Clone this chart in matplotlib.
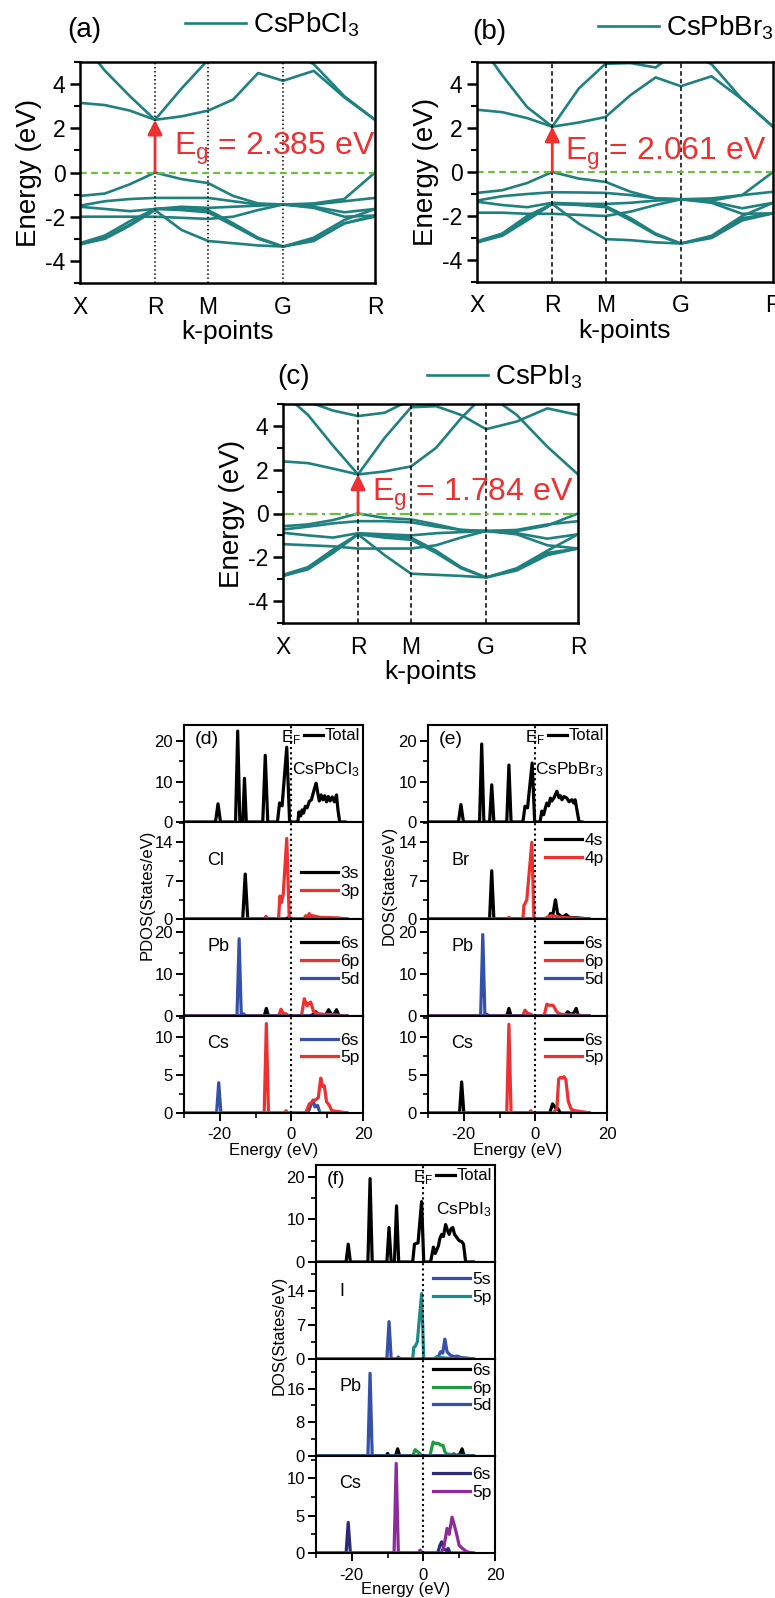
#!/usr/bin/env python3
# -*- coding: utf-8 -*-
"""CsPbX3 band structures (a-c) + total/partial DOS (d-f)."""
import matplotlib
matplotlib.use("Agg")
import matplotlib.pyplot as plt
from matplotlib.ticker import MultipleLocator

plt.rcParams['font.family'] = ['Liberation Sans', 'DejaVu Sans']
plt.rcParams['mathtext.fontset'] = 'custom'
plt.rcParams['mathtext.rm'] = 'Liberation Sans'
plt.rcParams['mathtext.it'] = 'Liberation Sans:italic'
plt.rcParams['axes.unicode_minus'] = False

TEAL = '#1f8080'
GREEN = '#6cbf3c'
RED = '#ee3030'
BLUE = '#3550a8'

# ---- band structure data: energies (eV) on the k-path X-R-M-G-R ----
KPATH = [0, 0.236, 0.471, 0.707, 0.957, 1.207, 1.443, 1.678, 1.914, 2.203, 2.491, 2.780]
KSYM = [0, 0.707, 1.207, 1.914, 2.780]
KLAB = ['X', 'R', 'M', 'G', 'R']

cb_cl = [
    [3.15, 3.05, 2.8, 2.385, 2.54, 2.8, 3.3, 4.5, 4.15, 4.6, 3.4, 2.385],
    [6.0, 4.6, 3.45, 2.385, 3.8, 5.1, 5.6, 5.2, 5.6, 4.9, 3.45, 2.385],
]
vb_cl = [
    [-1.06, -0.95, -0.53, 0.0, -0.3, -0.48, -1.06, -1.4, -1.45, -1.4, -1.2, 0.0],
    [-1.5, -1.3, -1.2, -1.15, -1.15, -1.15, -1.3, -1.45, -1.45, -1.45, -1.3, -1.15],
    [-1.55, -1.65, -1.75, -1.65, -1.55, -1.6, -1.55, -1.5, -1.45, -1.55, -1.8, -1.65],
    [-2.0, -2.0, -2.0, -2.0, -2.05, -2.1, -2.0, -1.7, -1.45, -1.6, -2.0, -1.95],
    [-3.25, -3.0, -2.4, -1.7, -2.6, -3.1, -3.2, -3.3, -3.35, -3.1, -2.3, -2.0],
    [-3.25, -2.95, -2.35, -1.65, -1.7, -1.8, -2.4, -3.0, -3.35, -3.05, -2.3, -1.95],
    [-3.2, -2.85, -2.2, -1.65, -1.6, -1.7, -2.3, -2.95, -3.35, -2.95, -2.15, -1.65],
]
cb_br = [
    [2.83, 2.72, 2.45, 2.061, 2.25, 2.5, 3.5, 4.3, 3.9, 4.35, 3.3, 2.061],
    [6.0, 4.4, 2.95, 2.061, 3.8, 4.92, 4.95, 4.75, 5.6, 4.9, 3.3, 2.061],
]
vb_br = [
    [-0.95, -0.83, -0.5, 0.0, -0.3, -0.45, -0.9, -1.2, -1.24, -1.3, -1.05, 0.0],
    [-1.3, -1.1, -1.0, -0.92, -0.93, -0.95, -1.05, -1.2, -1.24, -1.2, -1.05, -0.9],
    [-1.35, -1.5, -1.6, -1.4, -1.45, -1.45, -1.4, -1.3, -1.24, -1.35, -1.65, -1.4],
    [-1.85, -1.85, -1.9, -1.9, -1.95, -2.0, -1.8, -1.5, -1.24, -1.4, -1.9, -1.88],
    [-3.2, -2.9, -2.2, -1.45, -2.35, -3.05, -3.1, -3.2, -3.25, -3.0, -2.2, -1.88],
    [-3.2, -2.85, -2.1, -1.45, -1.5, -1.6, -2.2, -2.85, -3.25, -2.95, -2.1, -1.88],
    [-3.15, -2.8, -2.0, -1.45, -1.45, -1.55, -2.1, -2.8, -3.25, -2.9, -2.0, -1.4],
]
cb_i = [
    [2.38, 2.3, 2.05, 1.784, 1.92, 2.15, 3.0, 4.35, 5.5, 4.5, 3.05, 1.784],
    [5.5, 4.5, 3.1, 1.784, 3.45, 4.85, 4.9, 4.5, 3.85, 4.2, 4.8, 4.5],
    [5.5, 5.1, 4.7, 4.45, 4.6, 5.2, 5.5, 5.5, 5.5, 5.5, 5.5, 5.5],
]
vb_i = [
    [-0.58, -0.5, -0.3, 0.0, -0.2, -0.27, -0.5, -0.75, -0.8, -0.8, -0.55, 0.0],
    [-0.73, -0.6, -0.45, -0.35, -0.35, -0.4, -0.6, -0.75, -0.8, -0.75, -0.5, -0.35],
    [-0.88, -1.0, -1.1, -0.9, -0.95, -1.0, -0.9, -0.85, -0.8, -0.9, -1.15, -0.95],
    [-1.4, -1.45, -1.5, -1.6, -1.6, -1.6, -1.45, -1.1, -0.8, -0.95, -1.45, -1.6],
    [-2.85, -2.55, -1.8, -0.95, -1.9, -2.75, -2.8, -2.85, -2.92, -2.6, -1.9, -1.6],
    [-2.85, -2.5, -1.75, -0.95, -1.1, -1.2, -1.8, -2.5, -2.92, -2.55, -1.8, -1.6],
    [-2.8, -2.45, -1.65, -0.95, -1.0, -1.1, -1.7, -2.45, -2.92, -2.5, -1.7, -0.95],
]
EG = {'cl': 2.385, 'br': 2.061, 'i': 1.784}

# ---- DOS data: (energy list, states/eV list) per curve ----
tot_cl_e = [-30, -21.2, -20.5, -19.8, -15.6, -15.0, -14.4, -13.6, -13.1, -12.6, -8.0, -7.3, -6.6,
            -3.9, -3.3, -2.6, -1.3, -0.5, 1.8, 2.1, 2.6, 3.0, 3.4, 3.9, 4.4, 5.0, 5.6, 6.2, 6.9,
            7.4, 7.8, 8.3, 8.8, 9.3, 9.8, 10.3, 10.8, 11.4, 12.0, 12.6, 13.0, 13.5, 15]
tot_cl_d = [0, 0, 4.5, 0, 0, 22.5, 0, 0, 10.8, 0, 0, 16.5, 0,
            0, 4.7, 4.0, 18.5, 0, 0, 2.5, 1.5, 3.0, 2.2, 3.9, 3.5, 5.1, 5.5, 7.5, 9.6,
            7.0, 5.2, 6.7, 5.5, 6.5, 5.0, 6.3, 5.2, 6.2, 5.0, 6.7, 3.0, 0, 0]
cl3s_e = [-30, -13.6, -12.9, -12.2, -1.6, -1.0, -0.5, 15.5]
cl3s_d = [0, 0, 8.2, 0, 0, 0.2, 0, 0]
cl3p_e = [-30, -7.6, -7.1, -6.6, -3.6, -3.2, -2.8, -2.3, -1.3, -0.6, 3.5, 4.0, 4.5, 5.0, 5.5,
          6.0, 8.0, 13.0, 15.5]
cl3p_d = [0, 0, 0.5, 0, 0, 4.2, 3.0, 4.4, 14.7, 0, 0, 0.6, 0.3, 1.0, 0.4, 0.6, 0.3, 0.2, 0]
pb6s_cl_e = [-30, -7.6, -7.0, -6.4, 5.0, 6.0, 6.8, 7.6, 9.6, 10.4, 11.2, 11.9, 12.6, 13.3, 15.5]
pb6s_cl_d = [0, 0, 1.8, 0, 0, 0.3, 1.0, 0.2, 0.3, 1.5, 0.3, 0.4, 1.5, 0, 0]
pb6p_cl_e = [-30, -3.6, -2.9, -2.3, -1.5, -0.8, 2.8, 3.6, 4.4, 4.8, 5.4, 6.2, 7.0, 9.0, 12.0, 15.5]
pb6p_cl_d = [0, 0, 1.6, 0.6, 0.5, 0, 0, 4.1, 2.4, 3.0, 3.3, 1.0, 0.6, 0.4, 0.3, 0]
pb5d_cl_e = [-30, -15.2, -14.6, -14.0, -13.3, -12.8, 15.5]
pb5d_cl_d = [0, 0, 18.3, 0, 0.5, 0, 0]
cs6s_cl_e = [-30, -20.9, -20.3, -19.7, 4.6, 5.4, 6.0, 6.6, 7.3, 8.0, 15.5]
cs6s_cl_d = [0, 0, 4.0, 0, 0, 1.0, 1.7, 0.8, 1.0, 0, 0]
cs5p_cl_e = [-30, -7.6, -7.0, -6.4, -2.0, -1.5, -1.0, 4.0, 5.0, 6.0, 7.5, 8.2, 8.7, 9.2, 9.8,
             10.6, 11.3, 13, 15.5]
cs5p_cl_d = [0, 0, 11.8, 0, 0, 0.3, 0, 0, 1.2, 1.5, 2.0, 4.6, 3.5, 3.6, 1.5, 1.0, 0.3, 0.2, 0]

tot_br_e = [-30, -21.5, -20.8, -20.1, -15.6, -15.0, -14.4, -12.8, -12.2, -11.6, -8.0, -7.4, -6.8,
            -3.5, -2.9, -2.2, -0.9, -0.2, 1.3, 1.8, 2.3, 2.8, 3.2, 3.7, 4.2, 4.6, 5.2, 6.0, 6.6,
            7.0, 7.4, 8.0, 8.8, 9.4, 10.2, 10.7, 11.1, 11.6, 12.2, 13]
tot_br_d = [0, 0, 4.3, 0, 0, 19.3, 0, 0, 9.2, 0, 0, 14.1, 0,
            0, 3.9, 3.5, 14.6, 0, 0, 2.7, 1.8, 3.5, 4.7, 4.0, 5.9, 5.2, 6.0, 7.6, 6.0,
            6.5, 5.5, 6.3, 5.9, 5.0, 5.5, 4.7, 5.5, 3.0, 0, 0]
br4s_e = [-30, -12.8, -12.2, -11.6, 3.6, 4.2, 4.8, 5.2, 5.6, 6.2, 7.5, 8.6, 9.5, 12, 15]
br4s_d = [0, 0, 8.8, 0, 0, 1.0, 0.5, 2.0, 3.5, 1.0, 0.3, 0.8, 0.3, 0.2, 0]
br4p_e = [-30, -8.0, -7.4, -6.8, -3.5, -3.2, -2.9, -2.4, -1.0, -0.4, 2.5, 3.5, 4.5, 5.5, 7.0, 12, 15]
br4p_d = [0, 0, 0.3, 0, 0, 2.5, 2.8, 3.5, 14.0, 0, 0, 0.4, 0.6, 0.5, 0.3, 0.1, 0]
pb6s_br_e = [-30, -8.0, -7.4, -6.8, 8.0, 9.0, 10.0, 10.8, 11.4, 12.0, 15]
pb6s_br_d = [0, 0, 1.8, 0, 0, 1.0, 0.4, 0.8, 1.8, 0, 0]
pb6p_br_e = [-30, -3.6, -2.9, -2.2, -1.4, -0.6, 2.4, 3.2, 4.0, 4.6, 5.1, 5.8, 6.5, 8.0, 12, 15]
pb6p_br_d = [0, 0, 1.4, 0.6, 0.5, 0, 0, 2.8, 2.5, 2.6, 2.4, 1.2, 0.6, 0.3, 0.2, 0]
pb5d_br_e = [-30, -15.3, -14.7, -14.1, -13.5, -13.0, 15]
pb5d_br_d = [0, 0, 19.3, 0, 0.4, 0, 0]
cs6s_br_e = [-30, -21.2, -20.6, -20.0, 4.0, 4.8, 5.6, 6.2, 7.0, 15]
cs6s_br_d = [0, 0, 4.1, 0, 0, 1.2, 0.7, 0.6, 0, 0]
cs5p_br_e = [-30, -8.0, -7.4, -6.8, -1.8, -1.3, -0.8, 5.0, 6.0, 6.5, 7.0, 7.5, 8.0, 8.5, 9.2,
             10.0, 11, 14, 15]
cs5p_br_d = [0, 0, 11.7, 0, 0, 0.3, 0, 0, 0.6, 4.5, 4.7, 4.6, 4.8, 4.4, 1.5, 0.5, 0.3, 0.1, 0]

tot_i_e = [-30, -21.6, -21.0, -20.4, -15.5, -14.9, -14.3, -10.2, -9.6, -9.0, -8.1, -7.5, -6.9,
           -3.0, -2.5, -1.5, -0.5, 0.1, 2.0, 2.8, 3.3, 4.2, 4.6, 5.1, 5.6, 6.2, 6.7, 7.2, 7.7,
           8.2, 8.7, 9.3, 10.0, 10.7, 11.2, 11.8, 14]
tot_i_d = [0, 0, 4.2, 0, 0, 19.6, 0, 0, 8.1, 0, 0, 13.2, 0,
           0, 4.2, 4.5, 14.2, 0, 0, 3.5, 2.0, 3.8, 5.5, 6.5, 6.0, 8.8, 7.5, 6.5, 7.8,
           8.1, 6.5, 5.8, 5.0, 4.8, 4.2, 0, 0]
i5s_e = [-30, -10.2, -9.6, -9.0, -7.5, -7.0, -6.5, 3.5, 4.2, 4.8, 5.4, 6.0, 6.6, 7.5, 8.5, 9.5,
         10.5, 12, 14]
i5s_d = [0, 0, 7.7, 0, 0, 0.4, 0, 0, 0.5, 1.5, 1.2, 4.1, 1.5, 0.8, 0.5, 0.6, 0.3, 0.2, 0]
i5p_e = [-30, -3.0, -2.7, -2.3, -1.7, -0.5, 0.1, 3.0, 3.8, 4.5, 8, 14]
i5p_d = [0, 0, 2.4, 2.6, 3.5, 13.5, 0, 0, 0.5, 0.3, 0.1, 0]
pb6s_i_e = [-30, -10.5, -10.0, -9.5, -7.8, -7.2, -6.6, 7.8, 8.5, 9.2, 10.2, 10.8, 11.4, 14]
pb6s_i_d = [0, 0, 0.6, 0, 0, 1.7, 0, 0, 0.5, 0, 0.5, 1.7, 0, 0]
pb6p_i_e = [-30, -3.0, -2.3, -1.6, -1.0, -0.5, 1.8, 2.7, 3.3, 4.1, 4.8, 5.5, 6.0, 6.5, 8, 12, 14]
pb6p_i_d = [0, 0, 1.5, 1.0, 0.6, 0, 0, 3.3, 3.0, 3.0, 2.6, 2.5, 1.0, 0.5, 0.3, 0.1, 0]
pb5d_i_e = [-30, -15.5, -14.9, -14.3, 14]
pb5d_i_d = [0, 0, 19.6, 0, 0]
cs6s_i_e = [-30, -21.6, -21.0, -20.4, 4.0, 4.6, 5.1, 5.8, 6.5, 6.9, 7.5, 14]
cs6s_i_d = [0, 0, 4.1, 0, 0, 1.0, 1.5, 0.5, 0.3, 0.6, 0, 0]
cs5p_i_e = [-30, -8.2, -7.6, -7.0, -1.4, -0.9, -0.4, 5.0, 5.8, 6.6, 7.2, 8.0, 8.6, 9.3, 10.0,
            10.7, 12, 13.5]
cs5p_i_d = [0, 0, 12.0, 0, 0, 0.4, 0, 0, 1.0, 3.3, 2.5, 4.8, 3.8, 2.5, 1.0, 0.7, 0.2, 0]

W, H = 775, 1598
fig = plt.figure(figsize=(W / 100, H / 100), dpi=100)


def px_axes(x0, y0, x1, y1):
    return fig.add_axes([x0 / W, 1 - y1 / H, (x1 - x0) / W, (y1 - y0) / H])


def band_panel(box, cb, vb, eg, name, tag, vls, fls, leg_xy, tag_xy, txt_xy):
    ax = px_axes(*box)
    for i, band in enumerate(cb + vb):
        ax.plot(KPATH, band, color=TEAL, lw=1.9, label=name if i == 0 else None)
    for k in KSYM[1:-1]:
        ax.axvline(k, color='k', ls=vls, lw=1.1)
    ax.axhline(0, color=GREEN, lw=1.6, **fls)
    ax.annotate('', xy=(KSYM[1], eg), xytext=(KSYM[1], 0),
                arrowprops=dict(arrowstyle='-|>', color=RED, lw=2, mutation_scale=22,
                                shrinkA=0, shrinkB=0))
    ax.text(txt_xy[0], txt_xy[1], 'E$_\\mathrm{g}$ = %.3f eV' % eg, color=RED, fontsize=23,
            va='baseline')
    ax.set_xlim(KSYM[0], KSYM[-1])
    ax.set_ylim(-5, 5)
    ax.set_xticks(KSYM, KLAB)
    ax.set_xticks([KSYM[0], KSYM[-1]], minor=True)
    ax.tick_params(axis='x', which='major', length=0, labelsize=16.5, pad=9)
    ax.tick_params(axis='x', which='minor', length=12, width=1.8, direction='out')
    ax.yaxis.set_major_locator(MultipleLocator(2))
    ax.yaxis.set_minor_locator(MultipleLocator(1))
    ax.tick_params(axis='y', which='major', length=7, width=1.8, labelsize=16.5)
    ax.tick_params(axis='y', which='minor', length=4, width=1.5)
    for s in ax.spines.values():
        s.set_linewidth(1.8)
    ax.set_xlabel('k-points', fontsize=19, labelpad=1)
    ax.set_ylabel('Energy (eV)', fontsize=20, labelpad=2)
    ax.legend(loc='center left', bbox_to_anchor=leg_xy, frameon=False, fontsize=20,
              handlelength=2.2, handletextpad=0.25, borderaxespad=0, borderpad=0)
    ax.text(tag_xy[0], tag_xy[1], tag, transform=ax.transAxes, fontsize=20, ha='left',
            va='center')
    return ax


band_panel((80, 62, 375, 283), cb_cl, vb_cl, EG['cl'], 'CsPbCl$_3$', '(a)', ':',
           dict(ls=(0, (3, 2))), (0.356, 1.167), (-0.044, 1.145), (0.886, 0.8))
band_panel((477, 62, 773, 282), cb_br, vb_br, EG['br'], 'CsPbBr$_3$', '(b)', (0, (3, 2)),
           dict(ls=(0, (3, 2))), (0.409, 1.155), (-0.017, 1.136), (0.826, 0.55))
band_panel((283, 404, 578, 623), cb_i, vb_i, EG['i'], 'CsPbI$_3$', '(c)', (0, (3, 2)),
           dict(ls=(0, (5, 2, 1.5, 2))), (0.488, 1.123), (-0.02, 1.123), (0.836, 0.58))


def dos_block(x0, y_edges, ylims, majors, curves, elem, legs, tag, name, ylab, ylab_xy,
              xpad, lpad):
    x1 = x0 + 179
    axes = []
    for j in range(4):
        ax = px_axes(x0, y_edges[j], x1, y_edges[j + 1])
        for e, d, c, lab in curves[j]:
            ax.plot(e, d, color=c, lw=2.3, label=lab, solid_joinstyle='round')
        ax.axvline(0, color='k', ls=(0, (1, 1.5)), lw=1.5)
        ax.set_xlim(-30, 20)
        ax.set_ylim(0, ylims[j])
        ax.yaxis.set_major_locator(MultipleLocator(majors[j]))
        ax.yaxis.set_minor_locator(MultipleLocator(majors[j] / 2))
        ax.xaxis.set_major_locator(MultipleLocator(20))
        ax.xaxis.set_minor_locator(MultipleLocator(10))
        ax.tick_params(axis='y', which='major', length=6, width=1.4, labelsize=12, pad=2)
        ax.tick_params(axis='y', which='minor', length=3.5, width=1.2)
        ax.tick_params(axis='x', which='major', length=6, width=1.4, labelsize=12, pad=xpad)
        ax.tick_params(axis='x', which='minor', length=3.5, width=1.2)
        for s in ax.spines.values():
            s.set_linewidth(1.5)
        if j < 3:
            ax.tick_params(axis='x', which='both', bottom=False, labelbottom=False)
        else:
            ax.set_xlabel('Energy (eV)', fontsize=12, labelpad=lpad)
        if j == 0:
            ax.legend(loc='upper right', bbox_to_anchor=(1.0, 1.0), frameon=False, fontsize=12,
                      handlelength=1.1, handletextpad=0.1, borderaxespad=0.1, borderpad=0.1)
            ax.text(0.0, 0.87, 'E$_\\mathrm{F}$', transform=ax.get_xaxis_transform(),
                    fontsize=12, ha='center', va='center')
            ax.text(0.98, 0.54, name, transform=ax.transAxes, fontsize=12.5, ha='right',
                    va='center')
            ax.text(0.06, 0.85, tag, transform=ax.transAxes, fontsize=14, ha='left',
                    va='center')
        else:
            ax.text(0.13, elem[j - 1][1], elem[j - 1][0], transform=ax.transAxes,
                    fontsize=13, ha='left', va='center')
            ax.legend(loc='center right', bbox_to_anchor=(1.0, legs[j - 1]), frameon=False,
                      fontsize=12.5, handlelength=2.1, handletextpad=0.15, labelspacing=0.15,
                      borderaxespad=0.1, borderpad=0.1)
        axes.append(ax)
    fig.text(ylab_xy[0] / W, 1 - ylab_xy[1] / H, ylab, rotation=90, fontsize=12,
             ha='center', va='center')
    return axes


def cv(e, d, c, lab):
    return (e, d, c, lab)


dos_block(184, [725, 822, 919, 1016, 1113], [24, 17.7, 23, 12.8], [10, 7, 10, 5],
          [[cv(tot_cl_e, tot_cl_d, 'k', 'Total')],
           [cv(cl3s_e, cl3s_d, 'k', '3s'), cv(cl3p_e, cl3p_d, RED, '3p')],
           [cv(pb6s_cl_e, pb6s_cl_d, 'k', '6s'), cv(pb6p_cl_e, pb6p_cl_d, RED, '6p'),
            cv(pb5d_cl_e, pb5d_cl_d, BLUE, '5d')],
           [cv(cs6s_cl_e, cs6s_cl_d, BLUE, '6s'), cv(cs5p_cl_e, cs5p_cl_d, RED, '5p')]],
          [('Cl', 0.6), ('Pb', 0.72), ('Cs', 0.72)], [0.38, 0.56, 0.66], '(d)',
          'CsPbCl$_3$', 'PDOS(States/eV)', (147, 895), 4, 1)

dos_block(428, [725, 822, 919, 1016, 1113], [24, 17.7, 23, 12.8], [10, 7, 10, 5],
          [[cv(tot_br_e, tot_br_d, 'k', 'Total')],
           [cv(br4s_e, br4s_d, 'k', '4s'), cv(br4p_e, br4p_d, RED, '4p')],
           [cv(pb6s_br_e, pb6s_br_d, 'k', '6s'), cv(pb6p_br_e, pb6p_br_d, RED, '6p'),
            cv(pb5d_br_e, pb5d_br_d, BLUE, '5d')],
           [cv(cs6s_br_e, cs6s_br_d, 'k', '6s'), cv(cs5p_br_e, cs5p_br_d, RED, '5p')]],
          [('Br', 0.6), ('Pb', 0.72), ('Cs', 0.72)], [0.72, 0.56, 0.66], '(e)',
          'CsPbBr$_3$', 'DOS(States/eV)', (389, 885), 4, 1)

dos_block(316, [1165, 1262, 1359, 1456, 1553], [22.8, 20, 23, 13], [10, 7, 8, 5],
          [[cv(tot_i_e, tot_i_d, 'k', 'Total')],
           [cv(i5s_e, i5s_d, BLUE, '5s'), cv(i5p_e, i5p_d, '#1a8c88', '5p')],
           [cv(pb6s_i_e, pb6s_i_d, 'k', '6s'), cv(pb6p_i_e, pb6p_i_d, '#1f9a40', '6p'),
            cv(pb5d_i_e, pb5d_i_d, BLUE, '5d')],
           [cv(cs6s_i_e, cs6s_i_d, '#2e2a7a', '6s'), cv(cs5p_i_e, cs5p_i_d, '#8e2a9c', '5p')]],
          [('I', 0.7), ('Pb', 0.72), ('Cs', 0.72)], [0.73, 0.7, 0.72], '(f)',
          'CsPbI$_3$', 'DOS(States/eV)', (279, 1335), 5, -1)

fig.savefig('out.png', dpi=100)
